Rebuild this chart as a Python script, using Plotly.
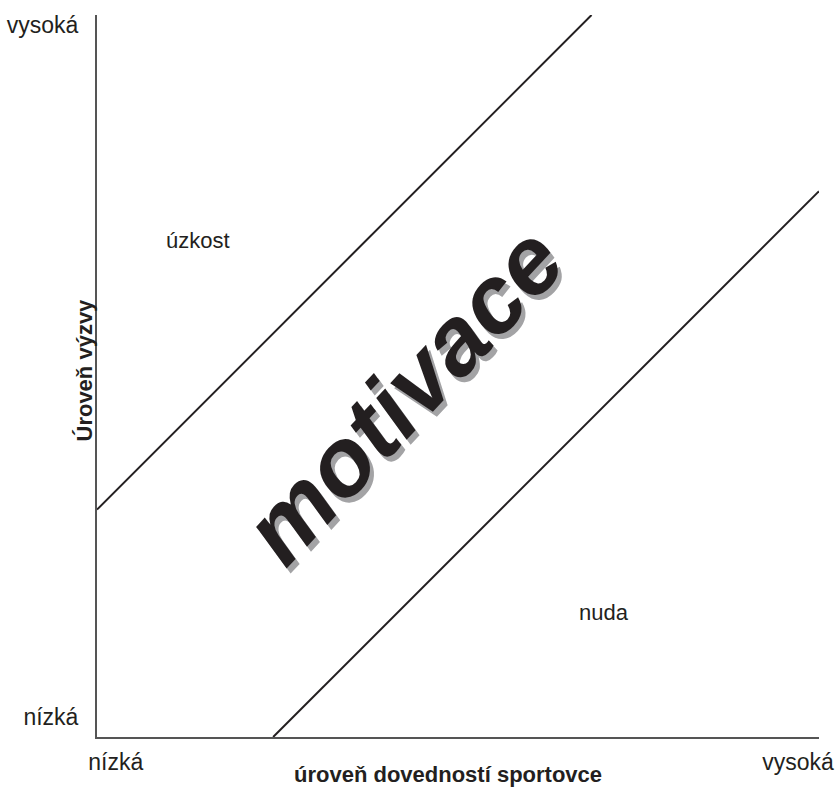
import plotly.graph_objects as go

# Boundary lines of the motivation channel (data units 0-100)
upper_x = [0, 68.5]
upper_y = [31.5, 100]
lower_x = [24.4, 100]
lower_y = [0, 75.6]

# Tick labels
x_tickvals = [2.6, 97.1]
x_ticktext = ["nízká", "vysoká"]
y_tickvals = [2.8, 98.6]
y_ticktext = ["nízká", "vysoká"]

# Region labels
region_text = ["úzkost", "nuda"]
region_x = [14.0, 70.2]
region_y = [68.7, 17.3]

center_text = "motivace"
center_x = 42.4
center_y = 47.4

x_title = "úroveň dovedností sportovce"
y_title = "Úroveň výzvy"

FONT = "Liberation Sans, Arial, Helvetica, sans-serif"
INK = "#231f20"

fig = go.Figure()
for xs, ys in [(upper_x, upper_y), (lower_x, lower_y)]:
    fig.add_trace(go.Scatter(x=xs, y=ys, mode="lines",
                             line=dict(color=INK, width=2),
                             hoverinfo="skip", showlegend=False, cliponaxis=False))

for t, x, y in zip(region_text, region_x, region_y):
    fig.add_annotation(x=x, y=y, text=t, showarrow=False,
                       font=dict(family=FONT, size=22, color=INK))

# shadow then main word
for shift, col in [((4, -5), "#a3a3a5"), ((0, 0), INK)]:
    fig.add_annotation(x=center_x, y=center_y, text=center_text,
                       showarrow=False, textangle=-47, xshift=shift[0], yshift=shift[1],
                       font=dict(family=FONT, size=96, color=col,
                                 weight="bold", style="italic"))

fig.add_annotation(xref="paper", yref="paper",
                   x=(448 - 97) / 722, y=-(789 - 737) / 722,
                   text=x_title, showarrow=False,
                   font=dict(family=FONT, size=22, color=INK, weight="bold"))
fig.add_annotation(xref="paper", yref="paper", x=-(97 - 69) / 722, y=(737 - 370) / 722,
                   text=y_title, textangle=-90, showarrow=False,
                   font=dict(family=FONT, size=22, color=INK, weight="bold"))

fig.update_layout(
    width=836, height=789,
    margin=dict(l=97, r=17, t=15, b=52, autoexpand=False),
    paper_bgcolor="white", plot_bgcolor="white",
    font=dict(family=FONT, size=23, color=INK),
    xaxis=dict(range=[0, 100], showgrid=False, zeroline=False, automargin=False,
               showline=True, linecolor="#555555", linewidth=2,
               tickvals=x_tickvals, ticktext=x_ticktext, ticks="",
               ticklabelstandoff=3, tickfont=dict(size=23, color=INK)),
    yaxis=dict(range=[0, 100], showgrid=False, zeroline=False, automargin=False,
               showline=True, linecolor="#555555", linewidth=2,
               tickvals=y_tickvals, ticktext=y_ticktext, ticks="",
               ticklabelstandoff=12, tickfont=dict(size=23, color=INK)),
)

fig.write_html("out.html", config={"displayModeBar": False},
               post_script="document.body.style.margin='0';")
